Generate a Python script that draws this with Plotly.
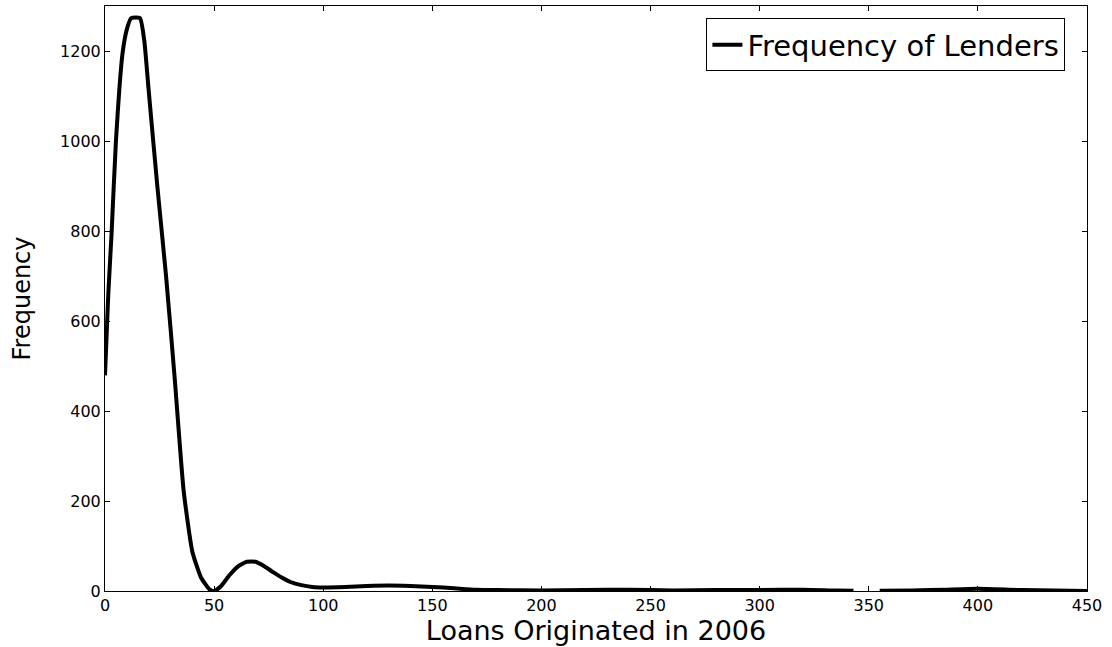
import plotly.graph_objects as go

# loans originated per lender (x) and how many lenders (y)
loans = [0, 1.5, 3, 5, 8, 10, 12, 16, 18, 20, 24, 28, 32, 36, 40, 44, 48, 50,
         53, 57, 61, 65, 69, 73, 77, 81, 85, 90, 95, 100, 110, 120, 130, 140,
         150, 160, 170, 180, 200, 220, 240, 260, 280, 300, 320, 335, 343, 348,
         355, 370, 385, 400, 420, 450]
freq = [480, 660, 795, 1000, 1195, 1250, 1275, 1275, 1225, 1115, 900, 700, 470,
        225, 88, 30, 3, 0,
        10, 35, 55, 65, 65, 55, 42, 30, 20, 13, 9, 8, 9, 11, 12, 11,
        9, 6, 3, 2, 1, 2, 3, 1, 2, 2, 3, 1, 0.5, None,
        0.3, 1, 3, 5, 2, 0]

fig = go.Figure()
fig.add_trace(go.Scatter(name='Frequency of Lenders', x=loans, y=freq, mode='lines',
                         line=dict(color='black', width=4, shape='spline', smoothing=0.5),
                         connectgaps=False))

axis_common = dict(showline=True, linecolor='black', linewidth=1, mirror='ticks',
                   ticks='inside', ticklen=5, tickcolor='black', showgrid=False,
                   zeroline=False, tickfont=dict(size=16, color='black'))

fig.update_layout(
    width=1112, height=647,
    margin=dict(l=105, r=25, t=6, b=56),
    paper_bgcolor='white', plot_bgcolor='white',
    font=dict(family='DejaVu Sans, Liberation Sans, sans-serif', color='black'),
    xaxis=dict(range=[0, 450], tick0=0, dtick=50,
               title=dict(text='Loans Originated in 2006', font=dict(size=27), standoff=6),
               **axis_common),
    yaxis=dict(range=[0, 1302], tick0=0, dtick=200,
               title=dict(text='Frequency', font=dict(size=24), standoff=22),
               **axis_common),
    legend=dict(x=0.978, y=0.979, xanchor='right', yanchor='top',
                bordercolor='black', borderwidth=1, bgcolor='white',
                font=dict(size=29)),
    showlegend=True,
)

fig.write_html("out.html", config={'displayModeBar': False},
               post_script="document.body.style.margin='0px';")
